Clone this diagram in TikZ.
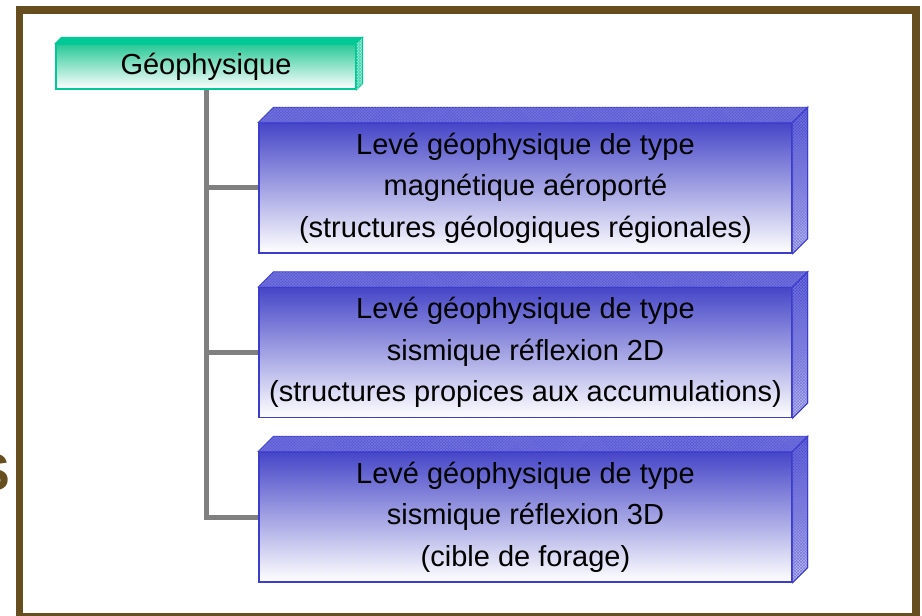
\documentclass[tikz,border=0pt]{standalone}
\usepackage{fontspec}
\setmainfont{Liberation Sans}
\usetikzlibrary{patterns,calc}
\definecolor{framebrown}{RGB}{102,78,30}
\definecolor{boxblue}{RGB}{60,60,205}
\definecolor{facetop}{RGB}{70,70,200}
\definecolor{sideblue}{RGB}{90,90,215}
\definecolor{geogreen}{RGB}{0,200,150}
\definecolor{geotop}{RGB}{40,200,150}
\definecolor{linkgray}{RGB}{128,128,128}
\tikzset{
  levebox/.style={draw=boxblue, line width=1.2bp, top color=facetop, bottom color=white,
    minimum width=533bp, minimum height=130bp, inner sep=0pt, align=center,
    font=\fontsize{29bp}{41.5bp}\selectfont},
  geobox/.style={draw=geogreen, line width=1.2bp, top color=geotop, bottom color=white,
    minimum width=300bp, minimum height=45bp, inner sep=0pt,
    font=\fontsize{29bp}{34bp}\selectfont},
  topface/.style={draw=boxblue, line width=1bp, fill=sideblue},
  sideface/.style={draw=boxblue, line width=1bp, top color=boxblue, bottom color=sideblue!35},
  grid/.style={pattern=crosshatch, pattern color=boxblue!70},
  gtopface/.style={draw=geogreen, line width=1bp, fill=geogreen},
  gsideface/.style={draw=geogreen, line width=1bp, fill=geogreen!70},
  link/.style={draw=linkgray, line width=5bp, line join=miter},
}
\begin{document}
\begin{tikzpicture}[x=1bp,y=-1bp]
\useasboundingbox (0,0) rectangle (922,616);
% frame
\draw[draw=framebrown, line width=7.5bp] (19.5,10) rectangle (916,617);
% partial title letter
\node[anchor=base east, inner sep=0pt, text=framebrown,
  font=\bfseries\fontsize{52bp}{52bp}\selectfont] (sl) at (10,490) {S};
% nodes (positions only)
\path (206,66.5) coordinate (gpos);
% connectors first
\coordinate (b1w) at (259,188);
\coordinate (b2w) at (259,352.5);
\coordinate (b3w) at (259,517);
\path[link] (206.5,80) |- (b3w);
\path[link] (206.5,188) -- (b1w);
\path[link] (206.5,352.5) -- (b2w);
% Geophysique box
\node[geobox] (g) at (gpos) {Géophysique};
\filldraw[gtopface] (g.north west) -- ++(6,-6) -- ($(g.north east)+(6,-6)$) -- (g.north east) -- cycle;
\filldraw[gsideface] (g.north east) -- ++(6,-6) -- ($(g.south east)+(6,-6)$) -- (g.south east) -- cycle;
\fill[pattern=crosshatch dots, pattern color=white] (g.north east) -- ++(6,-6) -- ($(g.south east)+(6,-6)$) -- (g.south east) -- cycle;
% blue boxes
\foreach \n/\y/\t in {b1/188/{Levé géophysique de type\\magnétique aéroporté\\(structures géologiques régionales)},
                      b2/352.5/{Levé géophysique de type\\sismique réflexion 2D\\(structures propices aux accumulations)},
                      b3/517/{Levé géophysique de type\\sismique réflexion 3D\\(cible de forage)}}{
  \node[levebox] (\n) at (525.5,\y) {\t};
  \filldraw[topface] (\n.north west) -- ++(15,-15) -- ($(\n.north east)+(15,-15)$) -- (\n.north east) -- cycle;
  \fill[grid] (\n.north west) -- ++(15,-15) -- ($(\n.north east)+(15,-15)$) -- (\n.north east) -- cycle;
  \shade[sideface] (\n.north east) -- ++(15,-15) -- ($(\n.south east)+(15,-15)$) -- (\n.south east) -- cycle;
  \fill[grid] (\n.north east) -- ++(15,-15) -- ($(\n.south east)+(15,-15)$) -- (\n.south east) -- cycle;
  \draw[draw=boxblue, line width=1bp] (\n.north east) -- ++(15,-15) -- ($(\n.south east)+(15,-15)$) -- (\n.south east);
}
\end{tikzpicture}
\end{document}
